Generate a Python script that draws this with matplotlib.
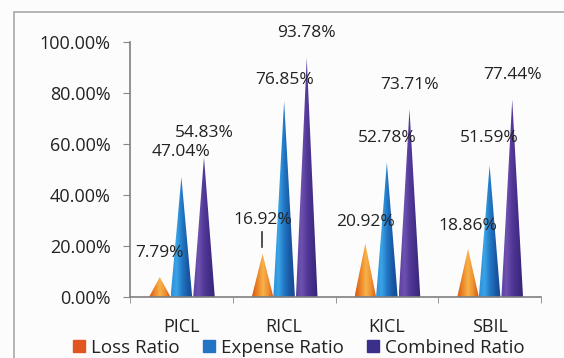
import numpy as np
import matplotlib.pyplot as plt
from matplotlib.patches import Polygon, Rectangle
from matplotlib.lines import Line2D
from matplotlib.colors import LinearSegmentedColormap

plt.rcParams['font.family'] = ['Open Sans', 'DejaVu Sans']

companies = ["PICL", "RICL", "KICL", "SBIL"]
series = ["Loss Ratio", "Expense Ratio", "Combined Ratio"]
loss_ratio = [7.79, 16.92, 20.92, 18.86]
expense_ratio = [47.04, 76.85, 52.78, 51.59]
combined_ratio = [54.83, 93.78, 73.71, 77.44]

# how far above each cone its label sits (percentage points)
label_lift = [[9.5, 10.0, 9.5],
              [13.3, 8.2, 9.7],
              [8.5, 9.6, 9.4],
              [9.0, 10.8, 9.7]]

legend_colors = ["#E0561E", "#2374C4", "#3B2F8C"]
cone_shades = [
    ["#D65A16", "#EC8526", "#F7B24A", "#EF8E30", "#CF5514"],
    ["#2C8FD8", "#3BA4E6", "#2378C6", "#1A5AA6", "#154A90"],
    ["#5E42A2", "#6E52B0", "#533898", "#432E88", "#372574"],
]

fig = plt.figure(figsize=(5.64, 3.58), dpi=100, facecolor="#fcfcfd")
ax = fig.add_axes([130 / 564, 1 - 297 / 358, 411 / 564, 255 / 358])
ax.set_facecolor("none")

offsets = [-0.21, 0.0, 0.22]
half_w = 0.105


def draw_cone(ax, xc, h, shades):
    tri = Polygon([(xc - half_w, 0), (xc, h), (xc + half_w, 0)], closed=True,
                  facecolor="none", edgecolor="none")
    ax.add_patch(tri)
    cmap = LinearSegmentedColormap.from_list("c", shades)
    grad = np.linspace(0, 1, 64).reshape(1, -1)
    im = ax.imshow(grad, cmap=cmap, extent=[xc - half_w, xc + half_w, 0, h],
                   aspect="auto", origin="lower", zorder=2)
    im.set_clip_path(tri)


all_vals = [loss_ratio, expense_ratio, combined_ratio]
for si, vals in enumerate(all_vals):
    for ci, v in enumerate(vals):
        xc = ci + offsets[si]
        draw_cone(ax, xc, v, cone_shades[si])
        ax.text(xc, v + label_lift[ci][si], "%.2f%%" % v, ha="center", va="center",
                fontsize=12.5, color="#222222", zorder=5)

# leader line for the RICL loss ratio label
ax.plot([1 + offsets[0] - 0.01] * 2, [loss_ratio[1] + 2.5, loss_ratio[1] + 8.5],
        color="#333333", lw=1.2, zorder=4)

ax.set_xlim(-0.5, 3.5)
ax.set_ylim(0, 100)
ax.set_yticks(np.arange(0, 101, 20))
ax.set_yticklabels(["%.2f%%" % t for t in np.arange(0, 101, 20)], fontsize=13, color="#222222")
ax.set_xticks(range(len(companies)))
ax.set_xticklabels(companies, fontsize=13, color="#222222")
ax.set_xticks(np.arange(-0.5, 3.6, 1), minor=True)
ax.tick_params(axis="x", which="major", length=0, pad=15)
ax.tick_params(axis="x", which="minor", length=4, color="#888888", direction="out")
ax.tick_params(axis="y", length=5, color="#888888", direction="out", pad=9)
for s in ["top", "right"]:
    ax.spines[s].set_visible(False)
for s in ["left", "bottom"]:
    ax.spines[s].set_color("#808080")
    ax.spines[s].set_linewidth(1.2)

handles = [Line2D([], [], marker="s", ls="none", color=c, markersize=8) for c in legend_colors]
fig.legend(handles, series, loc="center", bbox_to_anchor=(0.53, 0.028), ncol=3,
           frameon=False, fontsize=13.5, handletextpad=0.3, columnspacing=1.2,
           handlelength=0.7, labelcolor="#222222")

# outer chart frame
fig.patches.append(Rectangle((14 / 564, -0.1), 1.2, 0.1 + 1 - 12 / 358, transform=fig.transFigure,
                             facecolor="none", edgecolor="#a8a8a8", lw=1.2))

fig.savefig("out.png", dpi=100, facecolor=fig.get_facecolor())
